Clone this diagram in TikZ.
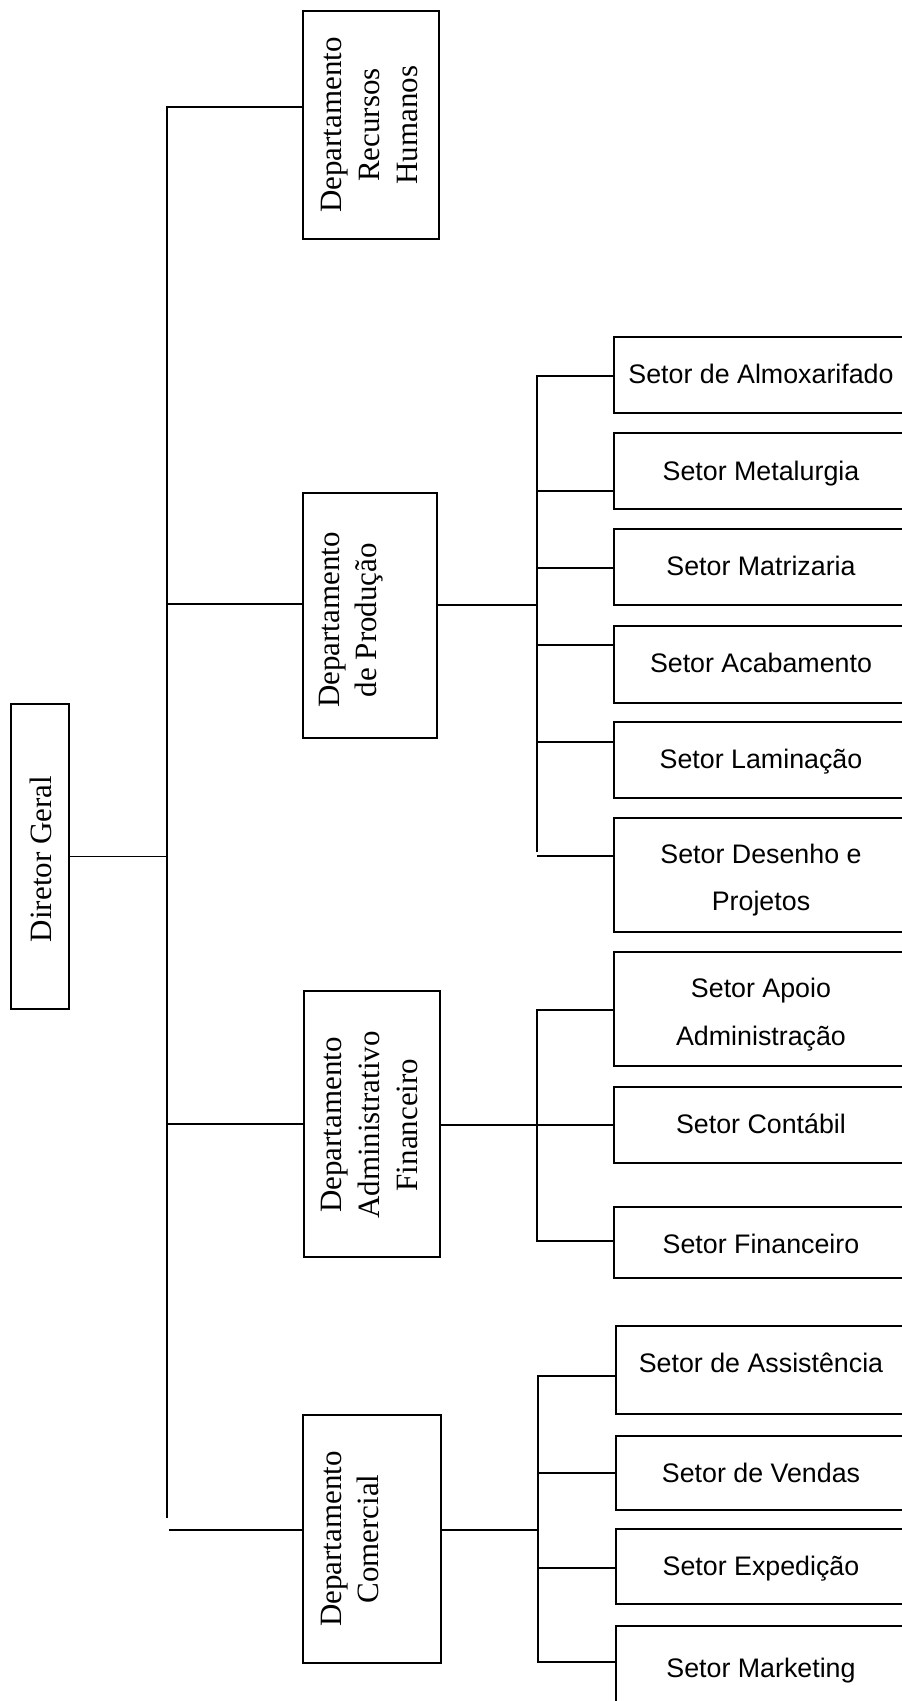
\documentclass[tikz,border=0pt]{standalone}
\usepackage{fontspec}
\setmainfont{Liberation Serif}
\newfontfamily\arialf{Liberation Sans}
\begin{document}
\begin{tikzpicture}[x=1pt,y=-1pt,
  ln/.style={line width=1.8pt},
  box/.style={draw, line width=1.8pt, inner sep=0pt, rectangle},
  sbox/.style={box, minimum width=292pt},
  dtext/.style={rotate=90, align=center, inner sep=0pt, font=\fontsize{31}{38}\selectfont},
  stext/.style={anchor=base, inner sep=0pt, font=\arialf\fontsize{26.8}{32}\selectfont}]
\useasboundingbox (0,0) rectangle (902,1701);
\fill[white] (0,0) rectangle (902,1701);

% top level boxes
\node[box, minimum width=58pt, minimum height=305pt] (dg) at (40,856.5) {};
\node[dtext] (dgt) at (41,859) {Diretor Geral};
\node[box, minimum width=136pt, minimum height=228pt] (rh) at (371,125) {};
\node[dtext] (rht) at (369,125) {Departamento\\Recursos\\Humanos};
\node[box, minimum width=134pt, minimum height=245pt] (prod) at (370,615.5) {};
\node[dtext, font=\fontsize{31}{37}\selectfont] (prodt) at (351,620) {Departamento\\de Produção};
\node[box, minimum width=136pt, minimum height=266pt] (adm) at (372,1124) {};
\node[dtext] (admt) at (369,1125) {Departamento\\Administrativo\\Financeiro};
\node[box, minimum width=138pt, minimum height=248pt] (com) at (372,1539) {};
\node[dtext, font=\fontsize{31}{37}\selectfont] (comt) at (350,1539) {Departamento\\Comercial};

% sector boxes
\node[sbox, minimum height=76pt] (almox) at (760,375) {};
\node[sbox, minimum height=76pt] (metal) at (760,471) {};
\node[sbox, minimum height=76pt] (matriz) at (760,567) {};
\node[sbox, minimum height=77pt] (acab) at (760,664.5) {};
\node[sbox, minimum height=76pt] (lamin) at (760,760) {};
\node[sbox, minimum height=114pt] (desen) at (760,875) {};
\node[sbox, minimum height=114pt] (apoio) at (760,1009) {};
\node[sbox, minimum height=76pt] (cont) at (760,1125) {};
\node[sbox, minimum height=71pt] (fin) at (760,1242.5) {};
\node[sbox, minimum height=88pt] (assist) at (762,1370) {};
\node[sbox, minimum height=74pt] (vend) at (762,1473) {};
\node[sbox, minimum height=75pt] (exped) at (762,1566.5) {};
\node[sbox, minimum height=86pt] (mkt) at (762,1669) {};

% sector texts
\node[stext] (almoxt) at (761,383) {Setor de Almoxarifado};
\node[stext] (metalt) at (761,480) {Setor Metalurgia};
\node[stext] (matrizt) at (761,575) {Setor Matrizaria};
\node[stext] (acabt) at (761,672) {Setor Acabamento};
\node[stext] (lamint) at (761,768) {Setor Laminação};
\node[stext] (desent) at (761,863) {Setor Desenho e};
\node[stext] (desent2) at (761,910) {Projetos};
\node[stext] (apoiot) at (761,997) {Setor Apoio};
\node[stext] (apoiot2) at (761,1045) {Administração};
\node[stext] (contt) at (761,1133) {Setor Contábil};
\node[stext] (fint) at (761,1253) {Setor Financeiro};
\node[stext] (assistt) at (761,1372) {Setor de Assistência};
\node[stext] (vendt) at (761,1482) {Setor de Vendas};
\node[stext] (expedt) at (761,1575) {Setor Expedição};
\node[stext] (mktt) at (761,1677) {Setor Marketing};

% main spine
\coordinate (sTop) at (167,107);
\coordinate (sBot) at (167,1518);
\draw[ln] (sTop -| rh.west) -- (sTop) -- (sBot);
\draw[ln] (dg.east) -- (dg.east -| sTop);
\coordinate (jP) at (167,604);
\draw[ln] (jP) -- (jP -| prod.west);
\draw[ln] (adm.west -| sTop) -- (adm.west);
\coordinate (jC) at (169,1530);
\draw[ln] (jC) -- (jC -| com.west);

% production branch
\coordinate (bP) at (537,605);
\draw[ln] (prod.east |- bP) -- (bP);
\coordinate (calmox) at (537,376);
\coordinate (bPb) at (537,852);
\draw[ln] (calmox -| almox.west) -- (calmox) -- (bPb);
\foreach \n/\y in {metal/491, matriz/568, acab/645, lamin/742, desen/856}{
  \coordinate (c\n) at (537,\y);
  \draw[ln] (c\n) -- (c\n -| \n.west);
}

% admin branch
\coordinate (bA) at (537,1125);
\draw[ln] (adm.east |- bA) -- (bA) -- (bA -| cont.west);
\coordinate (capoio) at (537,1010);
\coordinate (cfin) at (537,1241);
\draw[ln] (capoio -| apoio.west) -- (capoio) -- (cfin) -- (cfin -| fin.west);

% commercial branch
\coordinate (bC) at (538,1530);
\draw[ln] (com.east |- bC) -- (bC);
\coordinate (cassist) at (538,1376);
\coordinate (cmkt) at (538,1662);
\draw[ln] (cassist -| assist.west) -- (cassist) -- (cmkt) -- (cmkt -| mkt.west);
\foreach \n/\y in {vend/1473, exped/1568}{
  \coordinate (c\n) at (538,\y);
  \draw[ln] (c\n) -- (c\n -| \n.west);
}
\end{tikzpicture}
\end{document}
